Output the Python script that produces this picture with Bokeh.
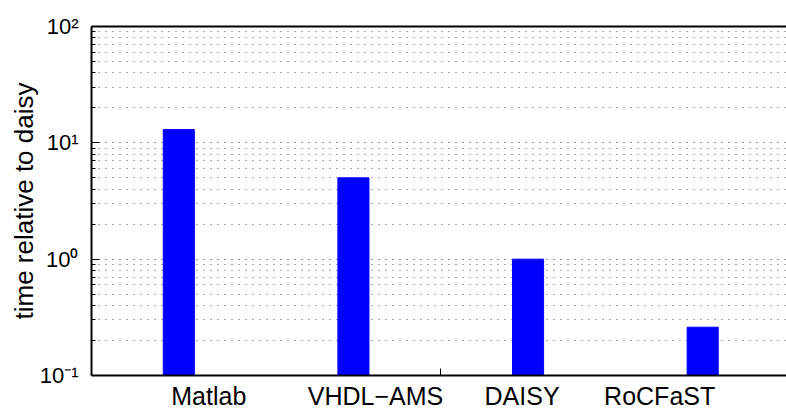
from bokeh.plotting import figure
from bokeh.models import FixedTicker, Range1d, ColumnDataSource, LinearAxis
from bokeh.embed import file_html
from bokeh.resources import INLINE

# ---- data ----
categories = ["Matlab", "VHDL−AMS", "DAISY", "RoCFaST"]
times = [13.0, 5.0, 1.0, 0.26]
y_ticks = [0.1, 1, 10, 100]
y_tick_labels = ["10⁻¹", "10⁰", "10¹", "10²"]
y_label = "time relative to daisy"

# ---- layout / style ----
label_shift_px = [30, 22, -6, -43]
x_start, x_end = 0.5, 4.48
frame_w, frame_h = 695, 349
bar_w = 0.178
FONT = "Liberation Sans"

xs = list(range(1, len(categories) + 1))
px_per_unit = frame_w / (x_end - x_start)
label_x = [round(x + s / px_per_unit, 4) for x, s in zip(xs, label_shift_px)]

source = ColumnDataSource(data=dict(x=xs, top=times, cat=categories))

p = figure(frame_width=frame_w, frame_height=frame_h,
           x_range=Range1d(x_start, x_end),
           y_range=Range1d(y_ticks[0], y_ticks[-1]),
           y_axis_type="log",
           output_backend="svg", toolbar_location=None,
           min_border_left=91, min_border_right=0,
           min_border_top=26, min_border_bottom=0)

p.vbar(x="x", top="top", bottom=y_ticks[0], width=bar_w, source=source,
       fill_color="#0000FF", line_color="#0000FF", line_width=1)

# y axis
minor = [m * t for t in y_ticks[:-1] for m in range(2, 10)]
p.yaxis.ticker = FixedTicker(ticks=y_ticks, minor_ticks=minor)
p.yaxis.major_label_overrides = {t: l for t, l in zip(y_ticks, y_tick_labels)}
p.yaxis.axis_label = y_label
p.yaxis.axis_label_text_font = FONT
p.yaxis.axis_label_text_font_size = "26px"
p.yaxis.axis_label_text_font_style = "normal"
p.yaxis.axis_label_text_color = "black"
p.yaxis.axis_label_standoff = -2
p.yaxis.major_label_text_font = FONT
p.yaxis.major_label_text_font_size = "22px"
p.yaxis.major_label_text_color = "black"
p.yaxis.major_label_standoff = 13
p.yaxis.axis_line_width = 2
p.yaxis.axis_line_color = "black"
p.yaxis.major_tick_in = 8
p.yaxis.major_tick_out = 0
p.yaxis.minor_tick_in = 4
p.yaxis.minor_tick_out = 0
p.yaxis.major_tick_line_color = "black"
p.yaxis.minor_tick_line_color = "black"

# x axis
p.xaxis.ticker = FixedTicker(ticks=label_x, minor_ticks=[(xs[1] + xs[2]) / 2])
p.xaxis.major_label_overrides = {t: c for t, c in zip(label_x, categories)}
p.xaxis.major_label_text_font = FONT
p.xaxis.major_label_text_font_size = "25px"
p.xaxis.major_label_text_color = "black"
p.xaxis.major_label_standoff = 6
p.xaxis.axis_line_width = 2
p.xaxis.axis_line_color = "black"
p.xaxis.major_tick_in = 0
p.xaxis.major_tick_out = 0
p.xaxis.minor_tick_in = 7
p.xaxis.minor_tick_out = 0
p.xaxis.minor_tick_line_color = "black"

# top border line (no right border visible in the reference)
top_axis = LinearAxis(ticker=FixedTicker(ticks=[]), axis_line_width=2,
                      axis_line_color="black", major_tick_in=0, major_tick_out=0,
                      minor_tick_in=0, minor_tick_out=0,
                      major_label_text_font_size="0px")
p.add_layout(top_axis, "above")

# grid
p.xgrid.visible = False
p.ygrid.grid_line_color = "black"
p.ygrid.grid_line_alpha = 0.8
p.ygrid.grid_line_dash = "1 6"
p.ygrid.minor_grid_line_color = "black"
p.ygrid.minor_grid_line_alpha = 0.65
p.ygrid.minor_grid_line_dash = "1 6"

p.outline_line_color = None
p.background_fill_color = "white"
p.border_fill_color = "white"

open("out.html", "w").write(file_html(p, INLINE))
